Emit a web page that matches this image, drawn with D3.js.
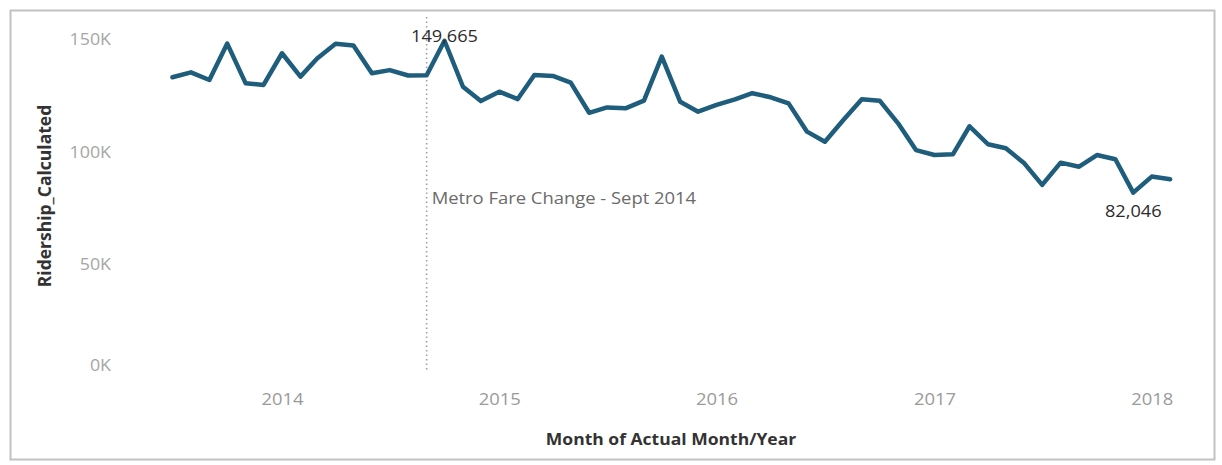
<!DOCTYPE html>
<html>
<head>
<meta charset="utf-8">
<script src="https://cdn.jsdelivr.net/npm/d3@7"></script>
<style>
  html, body { margin: 0; padding: 0; background: #ffffff; }
  svg { display: block; }
  text { font-family: "Open Sans", "Noto Sans", sans-serif; }
</style>
</head>
<body>
<svg id="chart" width="1222" height="465"></svg>
<script>
// ---- data ----
const months = [
  "2013-07","2013-08","2013-09","2013-10","2013-11","2013-12",
  "2014-01","2014-02","2014-03","2014-04","2014-05","2014-06",
  "2014-07","2014-08","2014-09","2014-10","2014-11","2014-12",
  "2015-01","2015-02","2015-03","2015-04","2015-05","2015-06",
  "2015-07","2015-08","2015-09","2015-10","2015-11","2015-12",
  "2016-01","2016-02","2016-03","2016-04","2016-05","2016-06",
  "2016-07","2016-08","2016-09","2016-10","2016-11","2016-12",
  "2017-01","2017-02","2017-03","2017-04","2017-05","2017-06",
  "2017-07","2017-08","2017-09","2017-10","2017-11","2017-12",
  "2018-01","2018-02"
];
const ridership = [
  133400,135600,132200,148400,130700,130000,
  144100,133700,141800,148300,147600,135200,
  136600,134200,134300,149665,129200,122800,
  127000,123700,134400,134000,131000,117600,
  120000,119600,123000,142600,122500,118100,
  121100,123600,126300,124500,121800,109200,
  104700,114400,123600,123000,112900,101000,
  98800,99100,111600,103600,101800,95100,
  85500,95400,93600,98800,96900,82046,
  89200,88000
];
const yTicks = [0, 50000, 100000, 150000];
const xTickYears = ["2014","2015","2016","2017","2018"];
const referenceMonth = "2014-09";
const referenceLabel = "Metro Fare Change - Sept 2014";
const yTitle = "Ridership_Calculated";
const xTitle = "Month of Actual Month/Year";

// ---- setup ----
const parse = d3.timeParse("%Y-%m");
const data = months.map((m, i) => ({ date: parse(m), value: ridership[i] }));
const svg = d3.select("#chart");
const STRETCH = 1.15;   // reference glyphs are horizontally wide

const x = d3.scaleTime()
  .domain([parse("2014-01"), parse("2018-01")])
  .range([282, 1151.7]);
const y = d3.scaleLinear().domain([0, 150000]).range([377, 40]);

function widen(sel, k) {
  const s = k || STRETCH;
  sel.each(function () {
    const w = this.getComputedTextLength();
    d3.select(this).attr("textLength", w * s).attr("lengthAdjust", "spacingAndGlyphs");
  });
}

// outer frame
svg.append("rect")
  .attr("x", 10.5).attr("y", 10.5).attr("width", 1204).attr("height", 449)
  .attr("fill", "#ffffff").attr("stroke", "#c2c2c2").attr("stroke-width", 2);

// faint pane shading to the right of the reference line
svg.append("rect")
  .attr("x", x(parse("2014-11-15")))
  .attr("y", y(130000))
  .attr("width", x(parse("2018-04")) - x(parse("2014-11-15")))
  .attr("height", y(0) - y(130000))
  .attr("fill", "#f8f8f8");

// y axis
const yAxis = svg.append("g")
  .attr("transform", "translate(111,0)")
  .call(d3.axisLeft(y).tickValues(yTicks).tickSize(0).tickPadding(0)
    .tickFormat(d => (d / 1000) + "K"));
yAxis.select(".domain").remove();
yAxis.selectAll("text")
  .attr("fill", "#a6a6a6").style("font-size", "15.5px")
  .attr("dy", d => d === 0 ? "-0.4em" : "0.32em")
  .call(widen);

// x axis
const xAxis = svg.append("g")
  .attr("transform", "translate(0,394)")
  .call(d3.axisBottom(x).tickValues(xTickYears.map(v => d3.timeParse("%Y")(v)))
    .tickSize(0).tickPadding(0).tickFormat(d3.timeFormat("%Y")));
xAxis.select(".domain").remove();
xAxis.selectAll("text")
  .attr("fill", "#9a9a9a").style("font-size", "16px")
  .attr("dy", "0.71em")
  .call(widen);

// axis titles
svg.append("text")
  .attr("x", 0).attr("y", 0)
  .attr("transform", "translate(44,196) rotate(-90)")
  .attr("text-anchor", "middle").attr("dominant-baseline", "central")
  .attr("fill", "#333333").style("font-size", "17.5px").style("font-weight", "700")
  .text(yTitle);

svg.append("text")
  .attr("x", 671).attr("y", 439)
  .attr("text-anchor", "middle").attr("dominant-baseline", "central")
  .attr("fill", "#333333").style("font-size", "15.5px").style("font-weight", "700")
  .text(xTitle)
  .call(widen, 1.13);

// reference line
const refX = x(parse(referenceMonth));
svg.append("line")
  .attr("x1", refX).attr("x2", refX)
  .attr("y1", 17).attr("y2", 372)
  .attr("stroke", "#a0a0a0").attr("stroke-width", 1.6)
  .attr("stroke-dasharray", "1.5,3");

svg.append("text")
  .attr("x", refX + 5).attr("y", 198)
  .attr("dominant-baseline", "central")
  .attr("fill", "#6b6b6b").style("font-size", "16px")
  .text(referenceLabel)
  .call(widen);

// line
const line = d3.line().x(d => x(d.date)).y(d => y(d.value));
svg.append("path")
  .datum(data)
  .attr("d", line)
  .attr("fill", "none")
  .attr("stroke", "#1f5d7c")
  .attr("stroke-width", 4.5)
  .attr("stroke-linejoin", "round")
  .attr("stroke-linecap", "round");

// max / min labels
const maxD = data.reduce((a, b) => b.value > a.value ? b : a);
const minD = data.reduce((a, b) => b.value < a.value ? b : a);
const fmt = d3.format(",");
svg.append("text")
  .attr("x", x(maxD.date)).attr("y", y(maxD.value) - 5)
  .attr("text-anchor", "middle").attr("dominant-baseline", "central")
  .attr("fill", "#2b2b2b").style("font-size", "16.5px")
  .text(fmt(maxD.value))
  .call(widen, 1.1);
svg.append("text")
  .attr("x", x(minD.date)).attr("y", y(minD.value) + 18)
  .attr("text-anchor", "middle").attr("dominant-baseline", "central")
  .attr("fill", "#2b2b2b").style("font-size", "16.5px")
  .text(fmt(minD.value))
  .call(widen, 1.1);
</script>
</body>
</html>
